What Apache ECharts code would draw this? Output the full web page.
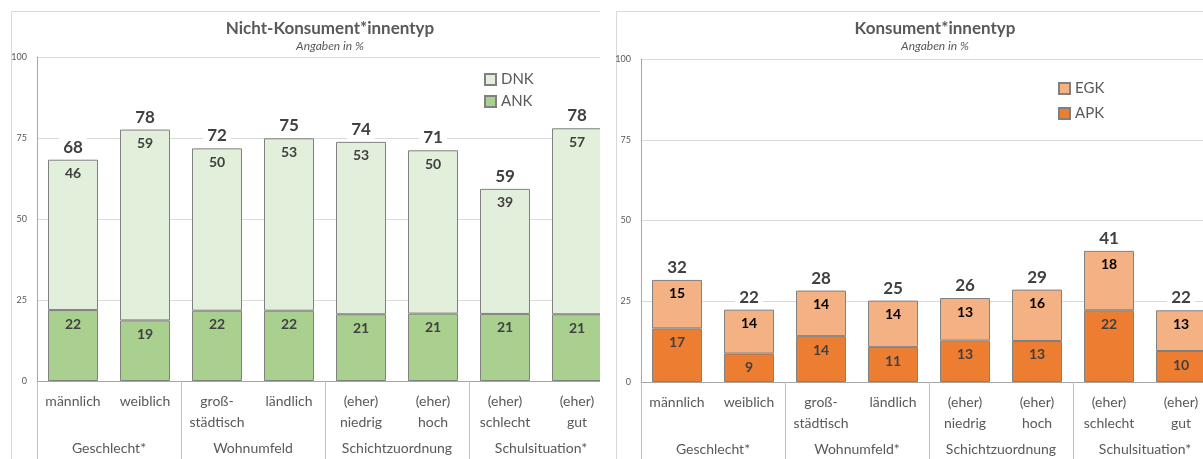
<!DOCTYPE html>
<html>
<head>
<meta charset="utf-8">
<script src="https://cdn.jsdelivr.net/npm/echarts@6/dist/echarts.min.js"></script>
<style>
  html, body { margin: 0; padding: 0; background: #fff; }
  .clip { position: absolute; top: 0; height: 459px; overflow: hidden; }
  #clipA { left: 0; width: 600px; }
  #clipB { left: 600px; width: 603px; }
  .chart { position: absolute; top: 0; left: 0; height: 459px; }
  #chartA { width: 660px; }
  #chartB { width: 670px; }
</style>
</head>
<body>
<div id="clipA" class="clip"><div id="chartA" class="chart"></div></div>
<div id="clipB" class="clip"><div id="chartB" class="chart"></div></div>
<script>
// Subgroups along the category axis and their headings
const categories = ['männlich', 'weiblich', 'groß-\nstädtisch', 'ländlich',
  '(eher)\nniedrig', '(eher)\nhoch', '(eher)\nschlecht', '(eher)\ngut'];
const groupsA = ['Geschlecht*', 'Wohnumfeld', 'Schichtzuordnung', 'Schulsituation*'];
const groupsB = ['Geschlecht*', 'Wohnumfeld*', 'Schichtzuordnung', 'Schulsituation*'];

// Nicht-Konsument*innen (percent)
const ank = [21.9, 18.7, 21.7, 21.7, 20.6, 20.8, 20.7, 20.6];
const dnk = [46.4, 58.9, 50.1, 53.2, 53.2, 50.4, 38.6, 57.4];

// Konsument*innen (percent)
const apk = [16.6, 8.8, 14.2, 10.8, 12.8, 12.7, 22.2, 9.6];
const egk = [15.0, 13.6, 14.1, 14.4, 13.2, 15.9, 18.4, 12.6];

const yTicks = [0, 25, 50, 75, 100];

const FONT = 'Lato, "Open Sans", sans-serif';
const GREY = '#595959';

function buildOption(cfg) {
  const totals = cfg.lower.map((v, i) => v + cfg.upper[i]);
  const segLabel = (color) => ({
    show: true, position: 'insideTop', distance: 7,
    fontFamily: FONT, fontSize: 14, fontWeight: 'bold', color: color,
    formatter: p => Math.round(p.value)
  });
  return {
    animation: false,
    textStyle: { fontFamily: FONT },
    title: {
      text: cfg.title, subtext: 'Angaben in %', left: 'center', top: 15, itemGap: 3,
      textStyle: { fontFamily: FONT, fontSize: 17, fontWeight: 'bold', color: GREY },
      subtextStyle: { fontFamily: FONT, fontSize: 12, fontStyle: 'italic', color: GREY }
    },
    legend: {
      data: [cfg.upperName, cfg.lowerName], orient: 'vertical', padding: 0,
      left: cfg.legendLeft, top: cfg.legendTop, itemGap: cfg.legendGap,
      itemWidth: 11, itemHeight: 11, icon: 'rect',
      textStyle: { fontFamily: FONT, fontSize: 15, color: GREY },
      selectedMode: false
    },
    graphic: [{
      type: 'rect', left: cfg.frameX, top: 9, z: -10, silent: true,
      shape: { width: 800, height: 600 },
      style: { fill: 'none', stroke: '#d9d9d9', lineWidth: 1 }
    }],
    grid: { left: cfg.gridLeft, top: cfg.gridTop, width: 576, height: cfg.gridHeight },
    xAxis: [{
      type: 'category', data: categories, position: 'bottom',
      axisLine: { lineStyle: { color: '#a6a6a6' } },
      axisTick: { show: false },
      axisLabel: { interval: 0, margin: 10, fontFamily: FONT, fontSize: 14, lineHeight: 21, color: GREY }
    }, {
      type: 'category', data: cfg.groups, position: 'bottom',
      axisLine: { show: false },
      axisTick: { show: true, length: 82, lineStyle: { color: '#bfbfbf' } },
      axisLabel: { interval: 0, margin: 58, fontFamily: FONT, fontSize: 14, lineHeight: 18, color: GREY }
    }],
    yAxis: {
      type: 'value', min: yTicks[0], max: yTicks[yTicks.length - 1], interval: 25,
      axisLine: { show: true, lineStyle: { color: '#a6a6a6' } },
      axisTick: { show: false },
      axisLabel: { margin: 10, fontFamily: FONT, fontSize: 9, color: GREY },
      splitLine: { lineStyle: { color: '#d9d9d9', width: 1 } }
    },
    series: [{
      name: cfg.lowerName, type: 'bar', stack: 's', barWidth: 50, data: cfg.lower,
      itemStyle: { color: cfg.lowerColor, borderColor: '#808080', borderWidth: 1 },
      label: segLabel(cfg.lowerLabelColor)
    }, {
      name: cfg.upperName, type: 'bar', stack: 's', data: cfg.upper,
      itemStyle: { color: cfg.upperColor, borderColor: '#808080', borderWidth: 1 },
      label: segLabel(cfg.upperLabelColor)
    }, {
      name: 'Summe', type: 'bar', stack: 's', data: cfg.lower.map(() => 0),
      itemStyle: { color: 'transparent', borderWidth: 0 },
      label: {
        show: true, position: 'top', distance: 3,
        fontFamily: FONT, fontSize: 17, fontWeight: 'bold', color: '#404040',
        backgroundColor: '#fff', padding: [1, 4],
        formatter: p => Math.round(totals[p.dataIndex])
      }
    }]
  };
}

echarts.init(document.getElementById('chartA')).setOption(buildOption({
  title: 'Nicht-Konsument*innentyp', groups: groupsA,
  lower: ank, upper: dnk, lowerName: 'ANK', upperName: 'DNK',
  lowerColor: '#a9d08e', upperColor: '#e2efda',
  lowerLabelColor: '#404040', upperLabelColor: '#404040',
  frameX: 9, gridLeft: 37, gridTop: 57, gridHeight: 324,
  legendLeft: 484, legendTop: 72, legendGap: 7
}));

echarts.init(document.getElementById('chartB')).setOption(buildOption({
  title: 'Konsument*innentyp', groups: groupsB,
  lower: apk, upper: egk, lowerName: 'APK', upperName: 'EGK',
  lowerColor: '#ed7d31', upperColor: '#f4b183',
  lowerLabelColor: '#404040', upperLabelColor: '#000000',
  frameX: 14, gridLeft: 41, gridTop: 59, gridHeight: 323,
  legendLeft: 458, legendTop: 81, legendGap: 10
}));
</script>
</body>
</html>
